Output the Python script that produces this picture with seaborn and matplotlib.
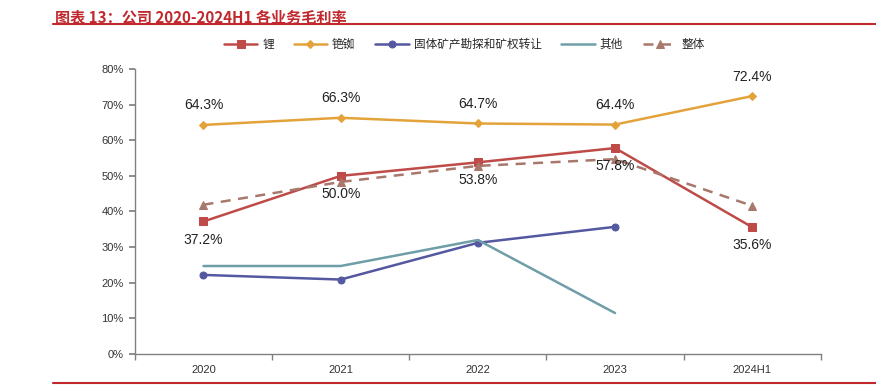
import matplotlib
matplotlib.use("Agg")
import matplotlib.pyplot as plt
import numpy as np
import pandas as pd
import seaborn as sns

years = ["2020", "2021", "2022", "2023", "2024H1"]
lithium = [37.2, 50.0, 53.8, 57.8, 35.6]
cesium = [64.3, 66.3, 64.7, 64.4, 72.4]
mining = [22.2, 20.9, 31.2, 35.7, np.nan]
other = [24.7, 24.7, 32.0, 11.5, np.nan]
overall = [41.9, 48.3, 52.8, 54.7, 41.6]

series_names = ["锂", "铯铷", "固体矿产勘探和矿权转让", "其他", "整体"]
series_values = [lithium, cesium, mining, other, overall]
colors = ["#BE4B48", "#E3A33A", "#5458A0", "#6F9EA8", "#A8786C"]
markers = ["s", "D", "o", None, "^"]
msizes = [6, 4.5, 5, 0, 6]
styles = ["-", "-", "-", "-", "--"]

sns.set_theme(style="white")
plt.rcParams["font.family"] = ["Liberation Sans", "Noto Sans CJK SC", "DejaVu Sans"]

fig = plt.figure(figsize=(8.76, 3.88), dpi=100)
ax = fig.add_axes([0.154, 0.0876, 0.783, 0.7346])

x = np.arange(len(years))
for name, vals, c, m, ms, ls in zip(series_names, series_values, colors, markers, msizes, styles):
    df = pd.DataFrame({"x": x, "y": vals}).dropna()
    sns.lineplot(data=df, x="x", y="y", ax=ax, color=c, marker=m, markersize=ms,
                 markeredgecolor=c, linewidth=1.8, label=name)
    if ls == "--":
        ax.lines[-1].set_linestyle((0, (4, 3)))

for i, v in enumerate(cesium):
    ax.annotate(f"{v:.1f}%", (i, v), xytext=(0, 9), textcoords="offset points",
                ha="center", va="bottom", fontsize=10, color="#222222")
for i, v in enumerate(lithium):
    ax.annotate(f"{v:.1f}%", (i, v), xytext=(0, -8), textcoords="offset points",
                ha="center", va="top", fontsize=10, color="#222222")

ax.set_xlim(-0.5, len(years) - 0.5)
ax.set_ylim(0, 80)
ax.set_yticks(range(0, 81, 10))
ax.set_yticklabels([f"{t}%" for t in range(0, 81, 10)], fontsize=8, color="#333333")
ax.set_xticks(x)
ax.set_xticklabels(years, fontsize=8, color="#333333")
ax.set_xticks(np.arange(-0.5, len(years), 1), minor=True)
ax.tick_params(axis="x", which="major", length=0, pad=8)
ax.tick_params(axis="x", which="minor", length=4, color="#808080", direction="out", bottom=True)
ax.tick_params(axis="y", length=4, color="#808080", direction="out", left=True, pad=4)
ax.set_xlabel("")
ax.set_ylabel("")
for s in ["top", "right"]:
    ax.spines[s].set_visible(False)
for s in ["left", "bottom"]:
    ax.spines[s].set_color("#808080")
    ax.spines[s].set_linewidth(1)

leg = ax.legend(loc="center", bbox_to_anchor=(0.48, 1.084), ncol=5, frameon=False,
                fontsize=8.4, handlelength=2.9, columnspacing=1.7, handletextpad=0.4)
leg.get_lines()[-1].set_linestyle((0, (4, 3)))

fig.text(0.063, 0.975, "图表 13：公司 2020-2024H1 各业务毛利率", fontsize=10.9,
         fontweight="bold", color="#C0282D", ha="left", va="top",
         family=["Noto Sans CJK SC", "DejaVu Sans"])
fig.add_artist(plt.Line2D([0.06, 1.0], [0.937, 0.937], color="#C0282D", linewidth=1.5))
fig.add_artist(plt.Line2D([0.06, 1.0], [0.013, 0.013], color="#C0282D", linewidth=1.5))

fig.savefig("out.png", dpi=100)
